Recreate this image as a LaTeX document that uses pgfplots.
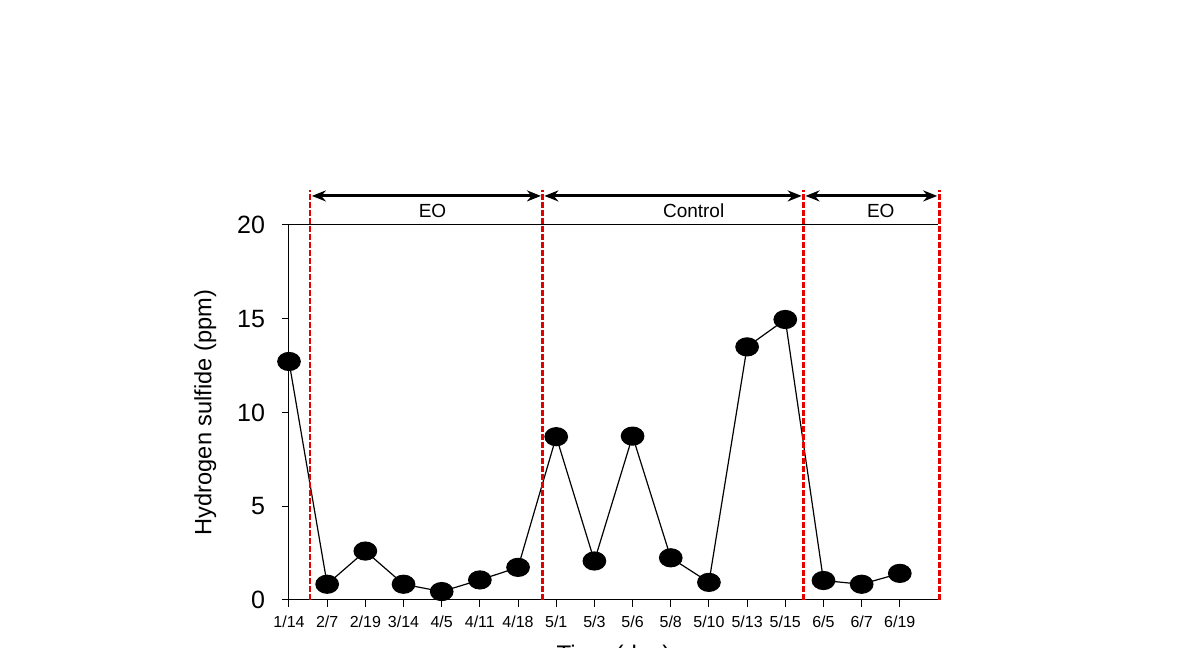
\documentclass[border=0pt]{standalone}
\usepackage{pgfplots}
\pgfplotsset{compat=1.18}
\usepackage{fontspec}
\setmainfont{Liberation Sans}
\usetikzlibrary{arrows.meta}
\begin{document}
\begin{tikzpicture}
\begin{axis}[
  scale only axis,
  width=324.5pt, height=187.5pt,
  xmin=0, xmax=17, ymin=0, ymax=20,
  axis x line=bottom, axis y line=left,
  axis line style={-, line width=0.5pt},
  clip=false,
  xtick={0,...,16},
  xticklabels={1/14,2/7,2/19,3/14,4/5,4/11,4/18,5/1,5/3,5/6,5/8,5/10,5/13,5/15,6/5,6/7,6/19},
  ytick={0,5,10,15,20},
  tick align=outside,
  major tick length=3.5pt,
  tick style={black, line width=0.5pt},
  /pgf/number format/assume math mode=true,
  xticklabel style={font=\fontsize{8}{9}\selectfont, yshift=-1pt},
  yticklabel style={font=\fontsize{12.5}{14}\selectfont, xshift=-5pt},
  xlabel={Time (day)},
  xlabel style={font=\fontsize{12}{14}\selectfont, yshift=-2pt},
  ylabel={Hydrogen sulfide (ppm)},
  ylabel style={font=\fontsize{11.8}{14}\selectfont, yshift=3.5pt},
]
\addplot[black, line width=0.6pt, mark=*, mark size=4.5pt, mark options={xscale=1.25, fill=black}] coordinates {
(0,12.72) (1,0.84) (2,2.61) (3,0.84) (4,0.45) (5,1.07) (6,1.74) (7,8.71)
(8,2.08) (9,8.74) (10,2.25) (11,0.94) (12,13.5) (13,14.96) (14,1.04) (15,0.84) (16,1.42)
};
\draw[black, line width=0.5pt] (axis cs:-0.18,20) -- (axis cs:17,20);
\pgfplotsinvokeforeach{0.55,6.64,13.48,17.03}{
  \draw[red!90!black, line width=1.4pt, dash pattern=on 3pt off 1pt] (axis cs:#1,0) -- (axis cs:#1,21.87);
}
\draw[{Stealth[length=7pt,width=5.5pt]}-{Stealth[length=7pt,width=5.5pt]}, line width=1.5pt] (axis cs:0.6,21.55) -- (axis cs:6.6,21.55);
\draw[{Stealth[length=7pt,width=5.5pt]}-{Stealth[length=7pt,width=5.5pt]}, line width=1.5pt] (axis cs:6.69,21.55) -- (axis cs:13.43,21.55);
\draw[{Stealth[length=7pt,width=5.5pt]}-{Stealth[length=7pt,width=5.5pt]}, line width=1.5pt] (axis cs:13.53,21.55) -- (axis cs:16.98,21.55);
\node[font=\fontsize{9.5}{11}\selectfont] at (axis cs:3.76,20.75) {EO};
\node[font=\fontsize{9.5}{11}\selectfont] at (axis cs:10.6,20.75) {Control};
\node[font=\fontsize{9.5}{11}\selectfont] at (axis cs:15.5,20.75) {EO};
\coordinate (bbl) at (rel axis cs:-0.4453,-0.128);
\coordinate (btr) at (rel axis cs:1.3883,1.6);
\end{axis}
\pgfresetboundingbox
\path[use as bounding box] (bbl) rectangle (btr);
\end{tikzpicture}
\end{document}
